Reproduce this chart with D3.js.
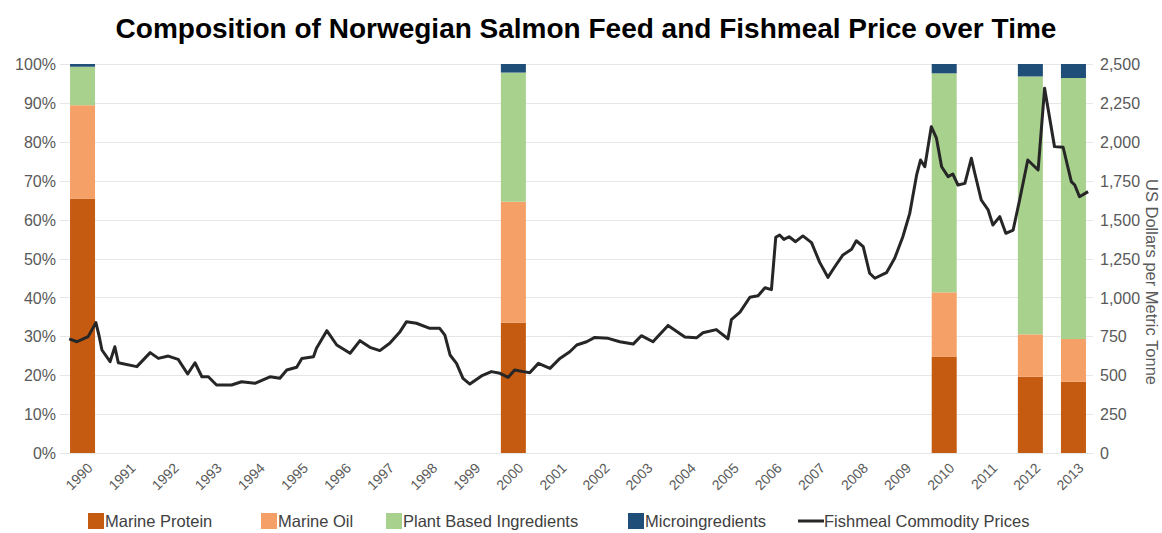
<!DOCTYPE html>
<html lang="en">
<head>
<meta charset="UTF-8">
<title>Norwegian Salmon Feed</title>
<script src="https://d3js.org/d3.v7.min.js"></script>
<style>
  body { margin: 0; background: #fff; }
  text { font-family: "Liberation Sans", Arial, sans-serif; }
</style>
</head>
<body>
<div id="chart"></div>
<script>

// years on the category axis
const years = d3.range(1990, 2014);

// feed composition (% of feed), one bar per sampled year
const barYears = [1990, 2000, 2010, 2012, 2013];
const marineProtein = [65.4, 33.5, 24.7, 19.6, 18.3];
const marineOil = [24.0, 31.1, 16.6, 10.9, 11.0];
const plantBased = [9.9, 33.2, 56.3, 66.3, 67.1];
const microIngredients = [0.7, 2.2, 2.4, 3.2, 3.6];

const seriesNames = ["Marine Protein", "Marine Oil", "Plant Based Ingredients", "Microingredients"];
const seriesColors = ["#c55a11", "#f4a066", "#a9d18e", "#1f4e79"];

// fishmeal price, [decimal year, US$ per tonne]
const fishmealPrice = [
  [1990.19,733],[1990.37,715],[1990.63,748],[1990.81,838],[1990.88,758],[1990.95,662],
  [1991.14,587],[1991.25,683],[1991.33,580],[1991.76,555],[1992.07,645],[1992.26,608],
  [1992.49,623],[1992.72,602],[1992.94,508],[1993.11,580],[1993.27,490],[1993.42,490],
  [1993.61,437],[1993.96,437],[1994.19,458],[1994.50,448],[1994.85,490],[1995.08,480],
  [1995.24,533],[1995.47,551],[1995.59,608],[1995.86,619],[1995.93,673],[1996.17,786],
  [1996.40,694],[1996.71,641],[1996.94,722],[1997.17,679],[1997.40,658],[1997.63,705],
  [1997.87,780],[1998.02,844],[1998.25,834],[1998.56,801],[1998.79,801],[1998.91,758],
  [1999.03,630],[1999.18,576],[1999.33,480],[1999.49,443],[1999.76,495],[1999.99,523],
  [2000.19,512],[2000.38,486],[2000.53,533],[2000.73,523],[2000.88,516],[2001.08,576],
  [2001.35,544],[2001.58,608],[2001.81,651],[2001.97,694],[2002.20,715],[2002.39,743],
  [2002.70,737],[2002.97,715],[2003.28,700],[2003.47,754],[2003.74,715],[2004.09,820],
  [2004.48,745],[2004.75,740],[2004.90,773],[2005.21,793],[2005.48,734],[2005.56,857],
  [2005.76,905],[2005.99,1001],[2006.18,1010],[2006.34,1062],[2006.49,1050],[2006.59,1386],
  [2006.68,1401],[2006.78,1373],[2006.90,1390],[2007.05,1358],[2007.22,1395],[2007.42,1352],
  [2007.61,1225],[2007.80,1129],[2007.96,1197],[2008.15,1273],[2008.35,1309],[2008.46,1364],
  [2008.62,1326],[2008.77,1155],[2008.89,1123],[2009.16,1159],[2009.35,1251],[2009.54,1390],
  [2009.70,1540],[2009.86,1787],[2009.95,1883],[2010.05,1840],[2010.20,2097],[2010.32,2023],
  [2010.44,1840],[2010.59,1776],[2010.70,1793],[2010.82,1722],[2010.98,1733],[2011.13,1894],
  [2011.21,1798],[2011.36,1626],[2011.52,1562],[2011.63,1465],[2011.79,1519],[2011.93,1412],
  [2012.10,1433],[2012.25,1626],[2012.44,1883],[2012.68,1819],[2012.83,2344],[2013.06,1969],
  [2013.26,1965],[2013.45,1744],[2013.53,1722],[2013.64,1647],[2013.84,1680]
];

const pctTicks = d3.range(0, 101, 10);
const priceTicks = d3.range(0, 2501, 250);

const width = 1162, height = 533;
const plotLeft = 61, plotRight = 1095, plotTop = 64, plotBottom = 453;

const svg = d3.select("#chart").append("svg")
    .attr("width", width)
    .attr("height", height);

const x = d3.scaleLinear().domain([1990, 2014]).range([plotLeft, plotRight]);
const yPct = d3.scaleLinear().domain([0, 100]).range([plotBottom, plotTop]);
const yPrice = d3.scaleLinear().domain([0, 2500]).range([plotBottom, plotTop]);

// title
svg.append("text")
    .attr("x", 586)
    .attr("y", 38)
    .attr("text-anchor", "middle")
    .style("font-size", "28px")
    .style("font-weight", "bold")
    .style("fill", "#000")
    .text("Composition of Norwegian Salmon Feed and Fishmeal Price over Time");

// gridlines
svg.append("g").selectAll("line")
    .data(pctTicks)
    .join("line")
    .attr("x1", plotLeft - 1)
    .attr("x2", plotRight - 2)
    .attr("y1", d => Math.round(yPct(d)) + 0.5)
    .attr("y2", d => Math.round(yPct(d)) + 0.5)
    .style("stroke", "#e6e6e6")
    .style("stroke-width", 1);

// left axis
const leftAxis = svg.append("g")
    .attr("transform", `translate(${plotLeft - 5},0)`)
    .call(d3.axisLeft(yPct).tickValues(pctTicks).tickFormat(d => d + "%").tickSize(0).tickPadding(0));
leftAxis.select(".domain").remove();
leftAxis.selectAll("text")
    .style("font-size", "16px")
    .style("fill", "#595959")
    .attr("dy", "0.35em");

// right axis
const rightAxis = svg.append("g")
    .attr("transform", `translate(${plotRight + 5},0)`)
    .call(d3.axisRight(yPrice).tickValues(priceTicks).tickFormat(d3.format(",")).tickSize(0).tickPadding(0));
rightAxis.select(".domain").remove();
rightAxis.selectAll("text")
    .style("font-size", "16px")
    .style("fill", "#595959")
    .attr("dy", "0.35em");

svg.append("text")
    .attr("transform", "translate(1146,282) rotate(90)")
    .attr("text-anchor", "middle")
    .style("font-size", "16.5px")
    .style("fill", "#595959")
    .text("US Dollars per Metric Tonne");

// x labels
svg.append("g").selectAll("text")
    .data(years)
    .join("text")
    .attr("transform", d => `translate(${x(d + 0.5) + 11},${plotBottom + 16}) rotate(-45)`)
    .attr("text-anchor", "end")
    .style("font-size", "14px")
    .style("fill", "#595959")
    .text(d => d);

// stacked bars
const barRows = barYears.map((yr, i) => ({
    year: yr,
    "Marine Protein": marineProtein[i],
    "Marine Oil": marineOil[i],
    "Plant Based Ingredients": plantBased[i],
    "Microingredients": microIngredients[i]
}));
const stacked = d3.stack().keys(seriesNames)(barRows);
const barW = 25;

svg.append("g").selectAll("g")
    .data(stacked)
    .join("g")
    .style("fill", (d, i) => seriesColors[i])
    .selectAll("rect")
    .data(d => d)
    .join("rect")
    .attr("x", d => x(d.data.year + 0.5) - barW / 2)
    .attr("width", barW)
    .attr("y", d => yPct(d[1]))
    .attr("height", d => yPct(d[0]) - yPct(d[1]));

// price line
const line = d3.line()
    .x(d => x(d[0]))
    .y(d => yPrice(d[1]));

svg.append("path")
    .datum(fishmealPrice)
    .attr("d", line)
    .style("fill", "none")
    .style("stroke", "#262626")
    .style("stroke-width", 3)
    .style("stroke-linejoin", "round");

// legend
const legendItems = [
    {name: "Marine Protein", color: seriesColors[0], x: 88},
    {name: "Marine Oil", color: seriesColors[1], x: 261},
    {name: "Plant Based Ingredients", color: seriesColors[2], x: 386},
    {name: "Microingredients", color: seriesColors[3], x: 628},
    {name: "Fishmeal Commodity Prices", color: "#262626", x: 798, line: true}
];
const legendY = 521;
const lg = svg.append("g").selectAll("g")
    .data(legendItems)
    .join("g")
    .attr("transform", d => `translate(${d.x},${legendY})`);

lg.filter(d => !d.line).append("rect")
    .attr("x", 0).attr("y", -8)
    .attr("width", 16).attr("height", 16)
    .style("fill", d => d.color);
lg.filter(d => d.line).append("line")
    .attr("x1", 0).attr("x2", 26)
    .attr("y1", 0).attr("y2", 0)
    .style("stroke", d => d.color)
    .style("stroke-width", 3);
lg.append("text")
    .attr("x", d => d.line ? 26 : 17)
    .attr("y", 6)
    .style("font-size", "16.5px")
    .style("fill", "#404040")
    .text(d => d.name);

</script>
</body>
</html>
